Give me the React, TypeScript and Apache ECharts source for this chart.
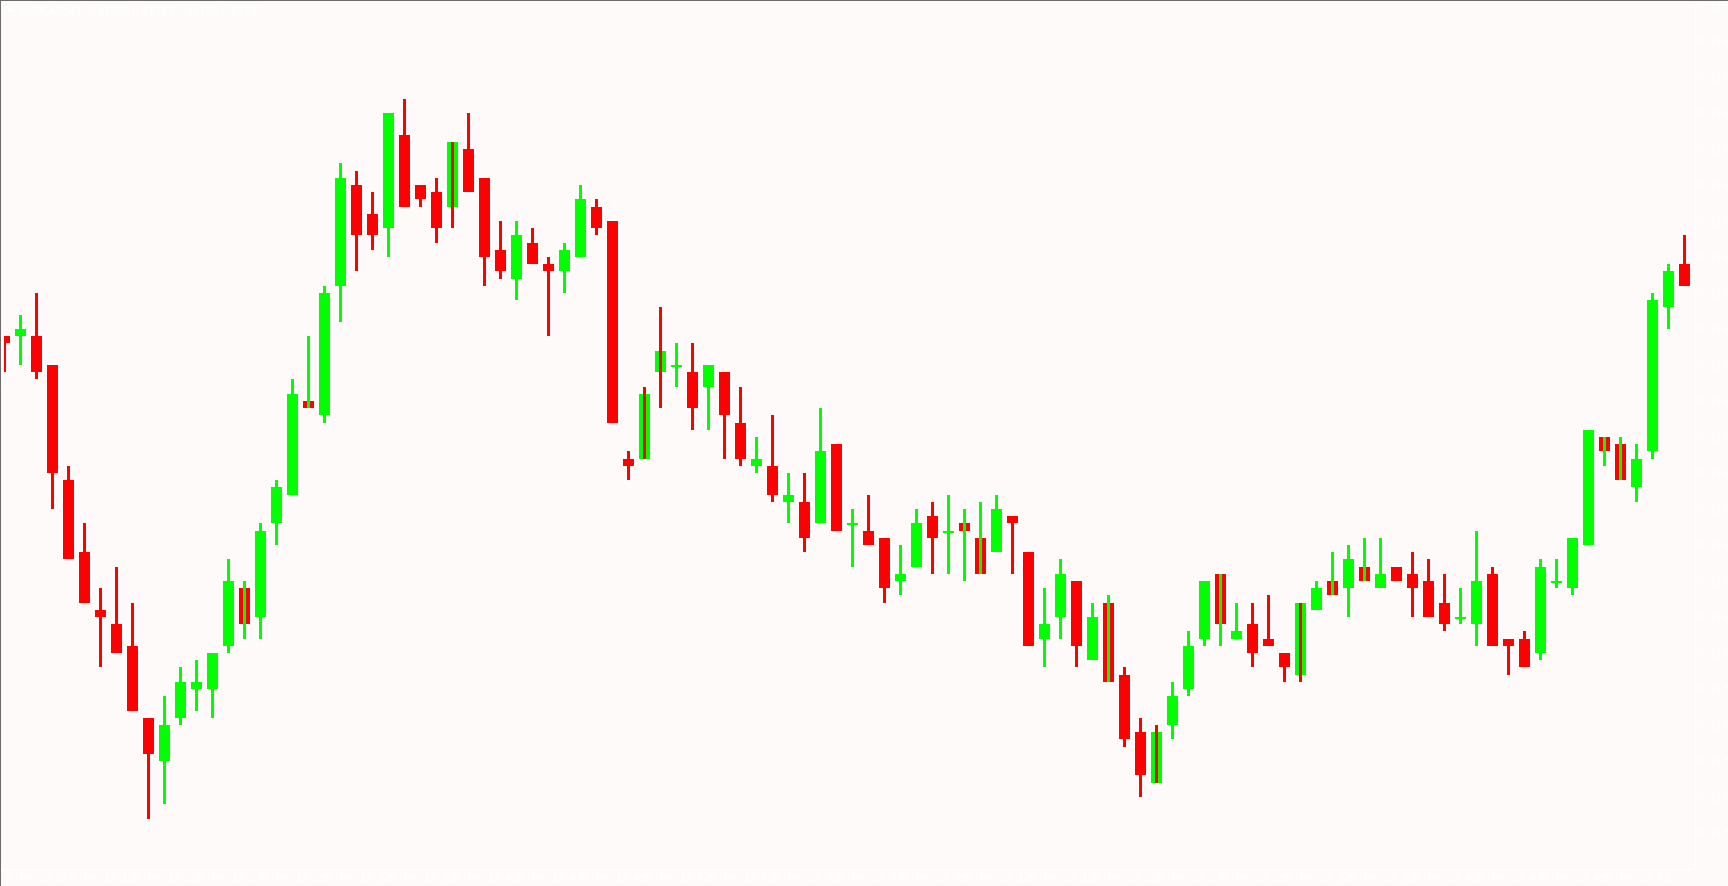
import React, { useEffect, useRef } from "react";
import * as echarts from "echarts";

const categories = [
  "19:12","19:13","19:14","19:15","19:16","19:17","19:18","19:19","19:20","19:21","19:22","19:23",
  "19:24","19:25","19:26","19:27","19:28","19:29","19:30","19:31","19:32","19:33","19:34","19:35",
  "19:36","19:37","19:38","19:39","19:40","19:41","19:42","19:43","19:44","19:45","19:46","19:47",
  "19:48","19:49","19:50","19:51","19:52","19:53","19:54","19:55","19:56","19:57","19:58","19:59",
  "20:00","20:01","20:02","20:03","20:04","20:05","20:06","20:07","20:08","20:09","20:10","20:11",
  "20:12","20:13","20:14","20:15","20:16","20:17","20:18","20:19","20:20","20:21","20:22","20:23",
  "20:24","20:25","20:26","20:27","20:28","20:29","20:30","20:31","20:32","20:33","20:34","20:35",
  "20:36","20:37","20:38","20:39","20:40","20:41","20:42","20:43","20:44","20:45","20:46","20:47",
  "20:48","20:49","20:50","20:51","20:52","20:53","20:54","20:55","20:56","20:57"
];

const xTickLabels = [
  "5 Dec 2025","5 Dec 19:16","5 Dec 19:20","5 Dec 19:24","5 Dec 19:28","5 Dec 19:32","5 Dec 19:36",
  "5 Dec 19:40","5 Dec 19:44","5 Dec 19:48","5 Dec 19:52","5 Dec 19:56","5 Dec 20:00","5 Dec 20:04",
  "5 Dec 20:08","5 Dec 20:12","5 Dec 20:16","5 Dec 20:20","5 Dec 20:24","5 Dec 20:28","5 Dec 20:32",
  "5 Dec 20:36","5 Dec 20:40","5 Dec 20:44","5 Dec 20:48","5 Dec 20:52","5 Dec 20:56"
];

const opens = [
  0.91844,0.91844,0.91844,0.91840,0.91824,0.91814,0.91806,0.91804,0.91801,0.91791,
  0.91785,0.91791,0.91795,0.91795,0.91801,0.91809,0.91805,0.91818,0.91822,0.91835,
  0.91833,0.91851,0.91865,0.91861,0.91859,0.91872,0.91865,0.91864,0.91862,0.91870,
  0.91866,0.91856,0.91852,0.91857,0.91854,0.91853,0.91855,0.91862,0.91860,0.91827,
  0.91827,0.91839,0.91840,0.91839,0.91837,0.91839,0.91832,0.91826,0.91826,0.91821,
  0.91821,0.91818,0.91829,0.91818,0.91817,0.91816,0.91810,0.91812,0.91819,0.91817,
  0.91818,0.91816,0.91814,0.91819,0.91814,0.91802,0.91805,0.91810,0.91799,0.91807,
  0.91797,0.91789,0.91782,0.91790,0.91795,0.91802,0.91811,0.91802,0.91804,0.91802,
  0.91800,0.91797,0.91806,0.91810,0.91809,0.91812,0.91809,0.91812,0.91811,0.91810,
  0.91807,0.91805,0.91804,0.91811,0.91802,0.91802,0.91800,0.91810,0.91809,0.91815,
  0.91830,0.91829,0.91823,0.91828,0.91848,0.91854
];
const closes = [
  0.91843,0.91845,0.91839,0.91825,0.91813,0.91807,0.91805,0.91800,0.91792,0.91786,
  0.91790,0.91796,0.91796,0.91800,0.91810,0.91804,0.91817,0.91823,0.91836,0.91834,
  0.91850,0.91866,0.91858,0.91858,0.91875,0.91862,0.91863,0.91859,0.91871,0.91864,
  0.91855,0.91853,0.91858,0.91854,0.91853,0.91856,0.91863,0.91859,0.91832,0.91826,
  0.91836,0.91842,0.91840,0.91834,0.91840,0.91833,0.91827,0.91827,0.91822,0.91822,
  0.91816,0.91828,0.91817,0.91818,0.91815,0.91809,0.91811,0.91818,0.91816,0.91817,
  0.91817,0.91811,0.91820,0.91818,0.91801,0.91804,0.91811,0.91801,0.91805,0.91796,
  0.91788,0.91783,0.91789,0.91794,0.91801,0.91810,0.91804,0.91803,0.91800,0.91801,
  0.91798,0.91807,0.91809,0.91808,0.91813,0.91810,0.91811,0.91810,0.91809,0.91805,
  0.91804,0.91805,0.91810,0.91801,0.91801,0.91798,0.91812,0.91810,0.91816,0.91831,
  0.91828,0.91824,0.91827,0.91849,0.91853,0.91851
];
const lows = [
  0.91839,0.91840,0.91838,0.91820,0.91813,0.91807,0.91798,0.91800,0.91792,0.91777,
  0.91779,0.91790,0.91792,0.91791,0.91800,0.91802,0.91802,0.91815,0.91822,0.91834,
  0.91832,0.91846,0.91853,0.91856,0.91855,0.91862,0.91862,0.91857,0.91859,0.91864,
  0.91851,0.91852,0.91849,0.91854,0.91844,0.91850,0.91855,0.91858,0.91832,0.91824,
  0.91827,0.91834,0.91837,0.91831,0.91831,0.91827,0.91826,0.91825,0.91821,0.91818,
  0.91814,0.91818,0.91817,0.91812,0.91815,0.91807,0.91808,0.91812,0.91811,0.91811,
  0.91810,0.91811,0.91814,0.91811,0.91801,0.91798,0.91802,0.91798,0.91799,0.91796,
  0.91787,0.91780,0.91782,0.91788,0.91794,0.91801,0.91801,0.91802,0.91798,0.91801,
  0.91796,0.91796,0.91806,0.91808,0.91805,0.91810,0.91809,0.91810,0.91805,0.91805,
  0.91803,0.91804,0.91801,0.91801,0.91797,0.91798,0.91799,0.91809,0.91808,0.91815,
  0.91826,0.91824,0.91821,0.91827,0.91845,0.91851
];
const highs = [
  0.91844,0.91847,0.91850,0.91840,0.91826,0.91818,0.91809,0.91812,0.91807,0.91791,
  0.91794,0.91798,0.91799,0.91800,0.91813,0.91810,0.91818,0.91824,0.91838,0.91844,
  0.91851,0.91868,0.91867,0.91864,0.91875,0.91877,0.91865,0.91866,0.91871,0.91875,
  0.91866,0.91860,0.91860,0.91859,0.91855,0.91857,0.91865,0.91863,0.91860,0.91828,
  0.91837,0.91848,0.91843,0.91843,0.91840,0.91839,0.91837,0.91830,0.91833,0.91825,
  0.91825,0.91834,0.91829,0.91820,0.91822,0.91816,0.91815,0.91820,0.91821,0.91822,
  0.91820,0.91821,0.91822,0.91819,0.91814,0.91809,0.91813,0.91810,0.91807,0.91808,
  0.91798,0.91791,0.91790,0.91796,0.91803,0.91810,0.91811,0.91807,0.91807,0.91808,
  0.91800,0.91807,0.91810,0.91814,0.91815,0.91816,0.91816,0.91812,0.91814,0.91813,
  0.91811,0.91809,0.91817,0.91812,0.91802,0.91803,0.91813,0.91813,0.91816,0.91831,
  0.91830,0.91830,0.91829,0.91850,0.91854,0.91858
];
// candles whose wick is drawn in the opposite colour to the body
const oppositeWick = [15, 19, 28, 40, 41, 60, 61, 69, 72, 76, 81, 83, 85, 100, 101];

const titleText = "AUDCAD,M1  0.91760 0.91783 0.91760 0.91780";
const currentPrice = 0.9178;

const GREEN = "#00ff00";
const RED = "#ff0000";
const BG = "#fefaf9";

export default function App() {
  const ref = useRef<HTMLDivElement>(null);
  useEffect(() => {
    if (!ref.current) return;
    const chart = echarts.init(ref.current, undefined, { renderer: "svg" });
    const data = categories.map((_, i) => [
      i, opens[i], closes[i], lows[i], highs[i], oppositeWick.includes(i) ? 1 : 0,
    ]);
    chart.setOption({
      animation: false,
      backgroundColor: BG,
      grid: {
        left: -3.5, width: 1696, top: 5, bottom: 17,
        containLabel: false, outerBoundsMode: "none",
      },
      xAxis: {
        type: "category",
        data: categories,
        boundaryGap: true,
        axisLine: { show: true, lineStyle: { color: "#ffffff", width: 1 } },
        axisTick: { show: true, alignWithLabel: true, interval: 3, length: 3, lineStyle: { color: "#ffffff" } },
        axisLabel: {
          show: true, interval: 3, align: "left", margin: 3,
          color: "#ffffff", fontSize: 11, fontFamily: "DejaVu Sans",
          formatter: (_v: string, idx: number) => (idx % 4 === 0 ? xTickLabels[idx / 4] : ""),
        },
        splitLine: { show: false },
      },
      yAxis: {
        type: "value",
        position: "right",
        offset: 2.5,
        min: 0.9177, max: 0.9189, interval: 0.00005,
        scale: true,
        axisLine: { show: true, lineStyle: { color: "#ffffff", width: 1 } },
        axisTick: { show: true, length: 3, lineStyle: { color: "#ffffff" } },
        axisLabel: {
          show: true, margin: 3, color: "#ffffff", fontSize: 11, fontFamily: "DejaVu Sans",
          showMinLabel: false,
          formatter: (v: number) => v.toFixed(5),
        },
        splitLine: { show: false },
      },
      graphic: [
        { type: "rect", z: 100, shape: { x: 0, y: 0, width: 4, height: 869 }, style: { fill: BG } },
        { type: "rect", z: 101, shape: { x: 0, y: 0, width: 1728, height: 1 }, style: { fill: "#6b6b6b" } },
        { type: "rect", z: 101, shape: { x: 0, y: 0, width: 1, height: 886 }, style: { fill: "#6b6b6b" } },
        { type: "polygon", z: 101, shape: { points: [[7, 9], [14, 9], [10.5, 13]] }, style: { fill: "#ffffff" } },
        {
          type: "text", z: 101, x: 20, y: 6,
          style: { text: titleText, fill: "#ffffff", fontSize: 10, fontFamily: "DejaVu Sans" },
        },
      ],
      series: [
        {
          type: "custom",
          clip: true,
          data,
          encode: { x: 0, y: [1, 2, 3, 4] },
          renderItem: (_params: any, api: any) => {
            const i = api.value(0);
            const o = api.value(1), c = api.value(2), l = api.value(3), h = api.value(4);
            const inv = api.value(5);
            const xc = api.coord([i, o])[0];
            const yO = Math.round(api.coord([i, o])[1]);
            const yC = Math.round(api.coord([i, c])[1]);
            const yL = Math.round(api.coord([i, l])[1]);
            const yH = Math.round(api.coord([i, h])[1]);
            const band = api.size([1, 0])[0];
            const bw = Math.round(band * 0.6875);
            const ww = 3;
            const up = c >= o;
            const bodyCol = up ? GREEN : RED;
            const wickCol = inv ? (up ? RED : GREEN) : bodyCol;
            const top = Math.min(yO, yC);
            const hgt = Math.max(Math.abs(yO - yC), 2);
            return {
              type: "group",
              children: [
                { type: "rect", shape: { x: xc - bw / 2, y: top, width: bw, height: hgt }, style: { fill: bodyCol } },
                { type: "rect", shape: { x: xc - ww / 2, y: yH, width: ww, height: Math.max(yL - yH, 1) }, style: { fill: wickCol } },
              ],
            };
          },
          markLine: {
            silent: true,
            symbol: "none",
            lineStyle: { opacity: 0 },
            label: {
              show: true, position: "end", distance: 4,
              formatter: () => currentPrice.toFixed(5),
              color: "#ffffff", backgroundColor: "#ffffff",
              fontSize: 11, fontFamily: "DejaVu Sans", padding: [1, 2],
            },
            data: [{ yAxis: currentPrice }],
          },
        },
      ],
    });
    return () => chart.dispose();
  }, []);
  return (
    <div
      ref={ref}
      style={{ position: "fixed", left: 0, top: 0, width: 1728, height: 886 }}
    />
  );
}
